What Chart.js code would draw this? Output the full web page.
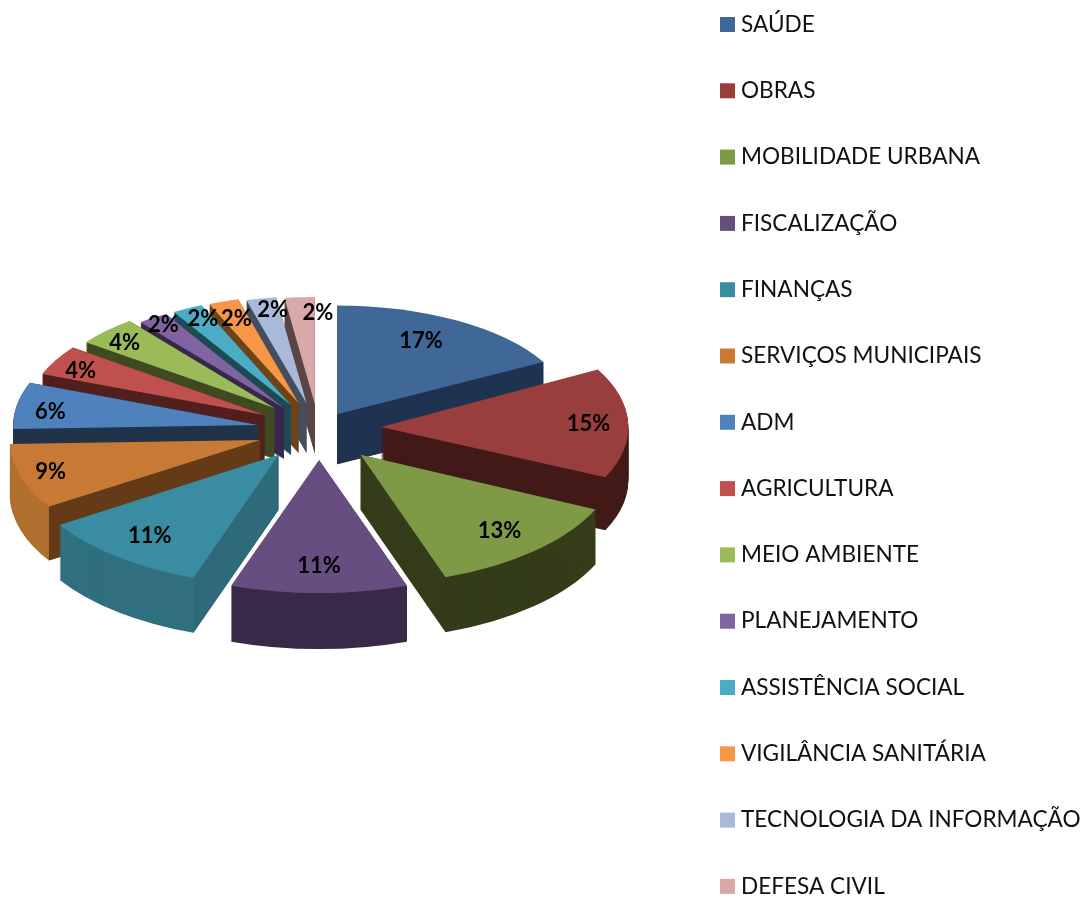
<!DOCTYPE html>
<html>

<head>
  <title>Demandas por setor</title>
  <script src="https://cdn.jsdelivr.net/npm/chart.js@4"></script>
  <style>
    body { margin: 0; background: #fff; overflow: hidden; }
    canvas { display: block; }
  </style>
</head>

<body>
  <canvas id="pie" width="1085" height="897"></canvas>

  <script>
    const setores = ['SAÚDE', 'OBRAS', 'MOBILIDADE URBANA', 'FISCALIZAÇÃO', 'FINANÇAS', 'SERVIÇOS MUNICIPAIS', 'ADM',
      'AGRICULTURA', 'MEIO AMBIENTE', 'PLANEJAMENTO', 'ASSISTÊNCIA SOCIAL', 'VIGILÂNCIA SANITÁRIA',
      'TECNOLOGIA DA INFORMAÇÃO', 'DEFESA CIVIL'];
    const valores = [8, 7, 6, 5, 5, 4, 3, 2, 2, 1, 1, 1, 1, 1];

    const coresTopo = ['#3f6797', '#993e3c', '#7e9a47', '#674e81', '#3a8ca3', '#c87a35', '#4f81bd',
      '#c0504d', '#9bbb59', '#8064a2', '#4bacc6', '#f79646', '#a9b9d9', '#d9a8a8'];
    const coresParede = ['#1f3350', '#421a18', '#343c1a', '#392a47', '#30707f', '#b0702f', '#203349',
      '#511f1e', '#3f4a22', '#37284a', '#1f4a55', '#6f4318', '#444e5e', '#5b4645'];
    const coresCorte = ['#1f3350', '#421a18', '#343c1a', '#392a47', '#2f6a7a', '#643b16', '#203349',
      '#511f1e', '#3f4a22', '#37284a', '#1f4a55', '#6f4318', '#444e5e', '#5b4645'];

    // quanto cada fatia sai do centro, ajustado olhando a imagem
    const explosaoX = [0.57, 1, 1, 1, 1.05, 1, 1, 1, 1, 1, 1, 1, 1, 1];
    const explosaoY = [0.5, 1, 1.13, 1, 1.07, 1.26, 0.56, 0.85, 0.9, 0.76, 0.8, 0.82, 0.78, 0.75];
    const escalaRaio = [1.02, 1, 0.985, 1, 0.985, 0.985, 1, 1, 1, 1, 1, 1, 1, 1];
    // posicao do rotulo em fracao do raio, horizontal e vertical
    const rotuloX = [0.7, 0.84, 0.8, 0.8, 0.8, 0.875, 0.86, 0.88, 0.89, 0.92, 0.85, 0.83, 0.75, -0.2];
    const rotuloY = [0.78, 0.8, 0.79, 0.8, 0.79, 0.88, 0.66, 0.8, 0.84, 0.92, 0.89, 0.83, 0.89, 0.85];

    // projecao "3D" feita a mao
    const centroX = 319, centroY = 428;
    const afastX = 62, afastY = 32;

    function projecao(arc, i) {
      const meio = (arc.startAngle + arc.endAngle) / 2;
      const sen = Math.cos(meio), cos = -Math.sin(meio); // angulo medido a partir do topo
      return {
        tx: centroX + afastX * explosaoX[i] * sen,
        ty: centroY - afastY * explosaoY[i] * cos,
        rx: (248 - 20 * cos) * escalaRaio[i], // frente maior que o fundo
        ry: 120 - 13 * cos,
        prof: Math.round(53 - 3 * cos),
        sen: sen,
        cos: cos,
      };
    }

    function desenhaArco(ctx, arc, p, cor, dy) {
      const original = arc.options;
      arc.options = Object.assign({}, original, { backgroundColor: cor, borderWidth: 0 });
      ctx.save();
      ctx.translate(p.tx, p.ty + dy);
      ctx.scale(p.rx / arc.outerRadius, p.ry / arc.outerRadius);
      ctx.translate(-arc.x, -arc.y);
      arc.draw(ctx);
      ctx.restore();
      arc.options = original;
    }

    function desenhaCorte(ctx, p, ang, cor) {
      const x = p.tx + p.rx * Math.cos(ang);
      const y = p.ty + p.ry * Math.sin(ang);
      ctx.fillStyle = cor;
      ctx.beginPath();
      ctx.moveTo(p.tx, p.ty);
      ctx.lineTo(x, y);
      ctx.lineTo(x, y + p.prof);
      ctx.lineTo(p.tx, p.ty + p.prof);
      ctx.closePath();
      ctx.fill();
    }

    const pizza3d = {
      id: 'pizza3d',
      beforeDatasetDraw(chart, args) {
        const ctx = chart.ctx;
        const arcos = args.meta.data.map((arc, i) => ({ arc, i, p: projecao(arc, i) }));
        arcos.sort((a, b) => b.p.cos - a.p.cos); // do fundo para a frente
        arcos.forEach(({ arc, i, p }) => {
          for (let d = p.prof; d > 0; d--) {
            desenhaArco(ctx, arc, p, coresParede[i], d);
          }
          if (Math.cos(arc.startAngle + Math.PI / 2) < 0) {
            desenhaCorte(ctx, p, arc.startAngle, coresCorte[i]);
          }
          if (Math.cos(arc.endAngle + Math.PI / 2) > 0) {
            desenhaCorte(ctx, p, arc.endAngle, coresCorte[i]);
          }
          desenhaArco(ctx, arc, p, coresTopo[i], 0);
        });
        return false;
      },
      afterDatasetsDraw(chart) {
        const ctx = chart.ctx;
        const total = valores.reduce((a, b) => a + b, 0);
        ctx.save();
        ctx.textBaseline = 'middle';

        // percentuais
        ctx.font = 'bold 22px Lato';
        ctx.fillStyle = '#000';
        ctx.textAlign = 'center';
        chart.getDatasetMeta(0).data.forEach((arc, i) => {
          const p = projecao(arc, i);
          const x = p.tx + rotuloX[i] * p.rx * p.sen;
          const y = p.ty - rotuloY[i] * p.ry * p.cos;
          ctx.fillText(Math.round(valores[i] / total * 100) + '%', x, y);
        });

        // legenda: nao cabe na altura com o espacamento original, por isso fica aqui
        ctx.font = '22.6px Lato';
        ctx.textAlign = 'left';
        setores.forEach((nome, i) => {
          const y = 24.5 + i * 66.3;
          ctx.fillStyle = coresTopo[i];
          ctx.fillRect(720, y - 7.5, 15, 15);
          ctx.fillStyle = '#111';
          ctx.fillText(nome, 741, y);
        });
        ctx.restore();
      },
    };

    new Chart(document.getElementById('pie'), {
      type: 'pie',
      data: {
        labels: setores,
        datasets: [{
          data: valores,
          backgroundColor: coresTopo,
          borderWidth: 0,
        }],
      },
      options: {
        responsive: false,
        animation: false,
        plugins: {
          legend: { display: false },
          tooltip: { enabled: false },
        },
      },
      plugins: [pizza3d],
    });
  </script>
</body>

</html>
